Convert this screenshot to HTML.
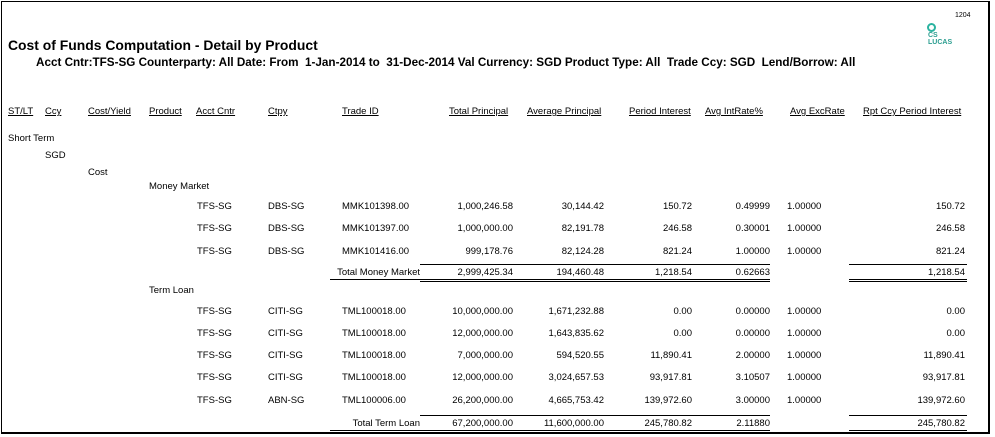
<!DOCTYPE html>
<html><head><meta charset="utf-8"><style>
body{margin:0;width:995px;height:437px;background:#fff;overflow:hidden;font-family:"Liberation Sans",Arial,sans-serif;color:#000}
.frame{position:absolute;left:1px;top:1px;width:986px;height:430px;border:1.5px solid #000;border-right-width:2px;border-bottom-width:2px}
.t{position:absolute;font-size:9.5px;white-space:nowrap;line-height:11px}
.r{text-align:right}
.u{text-decoration:underline}
.ln{position:absolute;height:1px;background:#000}
</style></head><body>
<div class="frame"></div>
<div class="t" style="left:955px;top:10px;font-size:7px">1204</div>
<div style="position:absolute;left:927px;top:23px;width:5px;height:5px;border:2px solid #2bb3a0;border-radius:50%"></div>
<div class="t" style="left:928px;top:32px;font-size:7px;font-weight:bold;color:#2a9d8f;line-height:7px">CS<br>LUCAS</div>
<div class="t" style="left:8px;top:37px;font-size:14.2px;font-weight:bold;line-height:18px;transform:scaleX(0.98);transform-origin:left">Cost of Funds Computation - Detail by Product</div>
<div class="t" style="left:36px;top:56px;font-size:11.7px;font-weight:bold;line-height:13px">Acct Cntr:TFS-SG Counterparty: All Date: From&nbsp; 1-Jan-2014 to&nbsp; 31-Dec-2014 Val Currency: SGD Product Type: All&nbsp; Trade Ccy: SGD&nbsp; Lend/Borrow: All</div>

<div class="t u" style="left:8px;top:106px">ST/LT</div>
<div class="t u" style="left:45px;top:106px">Ccy</div>
<div class="t u" style="left:88px;top:106px">Cost/Yield</div>
<div class="t u" style="left:149px;top:106px">Product</div>
<div class="t u" style="left:196px;top:106px">Acct Cntr</div>
<div class="t u" style="left:268px;top:106px">Ctpy</div>
<div class="t u" style="left:342px;top:106px">Trade ID</div>
<div class="t u" style="left:449px;top:106px">Total Principal</div>
<div class="t u" style="left:527px;top:106px">Average Principal</div>
<div class="t u" style="left:629px;top:106px">Period Interest</div>
<div class="t u" style="left:705px;top:106px">Avg IntRate%</div>
<div class="t u" style="left:790px;top:106px">Avg ExcRate</div>
<div class="t u" style="left:863px;top:106px">Rpt Ccy Period Interest</div>

<div class="t" style="left:8px;top:133px">Short Term</div>
<div class="t" style="left:45px;top:150px">SGD</div>
<div class="t" style="left:88px;top:167px">Cost</div>
<div class="t" style="left:149px;top:181px">Money Market</div>

<div id="rows"></div>
<script>
var rows=[
[201,"TFS-SG","DBS-SG","MMK101398.00","1,000,246.58","30,144.42","150.72","0.49999","1.00000","150.72"],
[223,"TFS-SG","DBS-SG","MMK101397.00","1,000,000.00","82,191.78","246.58","0.30001","1.00000","246.58"],
[246,"TFS-SG","DBS-SG","MMK101416.00","999,178.76","82,124.28","821.24","1.00000","1.00000","821.24"],
[267,"","","Total Money Market","2,999,425.34","194,460.48","1,218.54","0.62663","","1,218.54"],
[306,"TFS-SG","CITI-SG","TML100018.00","10,000,000.00","1,671,232.88","0.00","0.00000","1.00000","0.00"],
[328,"TFS-SG","CITI-SG","TML100018.00","12,000,000.00","1,643,835.62","0.00","0.00000","1.00000","0.00"],
[350,"TFS-SG","CITI-SG","TML100018.00","7,000,000.00","594,520.55","11,890.41","2.00000","1.00000","11,890.41"],
[372,"TFS-SG","CITI-SG","TML100018.00","12,000,000.00","3,024,657.53","93,917.81","3.10507","1.00000","93,917.81"],
[395,"TFS-SG","ABN-SG","TML100006.00","26,200,000.00","4,665,753.42","139,972.60","3.00000","1.00000","139,972.60"],
[418,"","","Total Term Loan","67,200,000.00","11,600,000.00","245,780.82","2.11880","","245,780.82"]];
var h="";
rows.forEach(function(r){var y=r[0];var tot=r[1]=="";
h+='<div class="t" style="left:197px;top:'+y+'px">'+r[1]+'</div>';
h+='<div class="t" style="left:268px;top:'+y+'px">'+r[2]+'</div>';
if(tot)h+='<div class="t r" style="left:300px;width:120px;top:'+y+'px">'+r[3]+'</div>';
else h+='<div class="t" style="left:342px;top:'+y+'px">'+r[3]+'</div>';
var rs=[513,604,692,770];
for(var i=0;i<4;i++)h+='<div class="t r" style="left:'+(rs[i]-120)+'px;width:120px;top:'+y+'px">'+r[4+i]+'</div>';
h+='<div class="t" style="left:787px;top:'+y+'px">'+r[8]+'</div>';
h+='<div class="t r" style="left:845px;width:120px;top:'+y+'px">'+r[9]+'</div>';
if(tot){var a=y-3,b=y+12;
h+='<div class="ln" style="left:420px;width:350px;top:'+a+'px"></div><div class="ln" style="left:849px;width:118px;top:'+a+'px"></div>';
h+='<div class="ln" style="left:330px;width:90px;top:'+b+'px"></div>';
h+='<div class="ln" style="left:420px;width:350px;top:'+b+'px"></div><div class="ln" style="left:420px;width:350px;top:'+(b+2)+'px"></div>';
h+='<div class="ln" style="left:849px;width:118px;top:'+b+'px"></div><div class="ln" style="left:849px;width:118px;top:'+(b+2)+'px"></div>';}
});
document.getElementById("rows").innerHTML=h;
</script>
<div class="t" style="left:149px;top:285px">Term Loan</div>
</body></html>
